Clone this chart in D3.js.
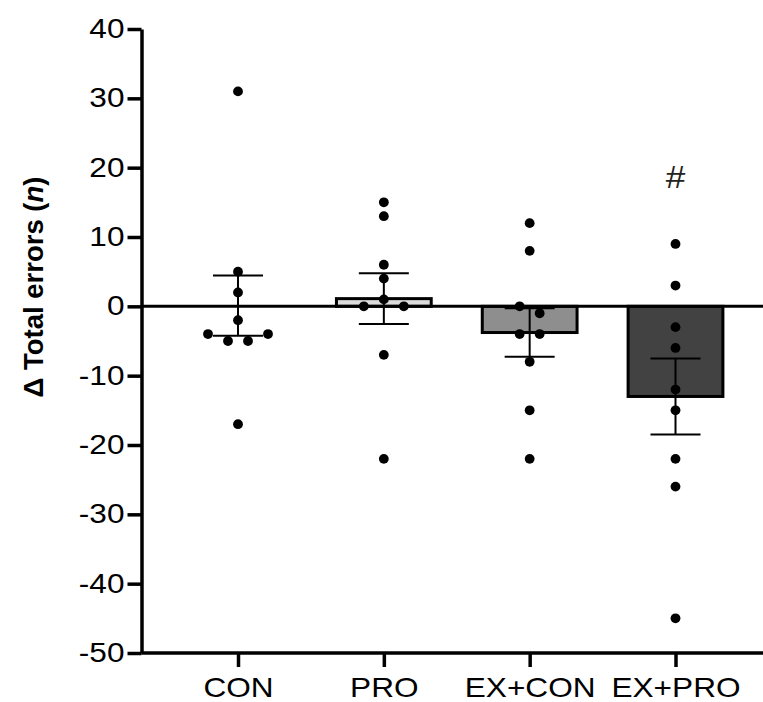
<!DOCTYPE html>
<html>
<head>
<meta charset="utf-8">
<script src="https://cdn.jsdelivr.net/npm/d3@7"></script>
<style>
  body { margin: 0; background: #fff; }
  svg { display: block; }
  text { font-family: "Liberation Sans", Arial, sans-serif; }
</style>
</head>
<body>
<div id="chart"></div>
<script>
// group names and bar colours
const groups = ["CON", "PRO", "EX+CON", "EX+PRO"];
const barFills = ["#ffffff", "#dcdcdc", "#8e8e8e", "#424242"];

// individual change scores per group
const conValues = [31, 5, 2, -2, -5, -5, -4, -4, -17];
const proValues = [15, 13, 6, 4, 1, 0, 0, -7, -22];
const exConValues = [12, 8, 0, -1, -4, -4, -8, -15, -22];
const exProValues = [9, 3, -3, -6, -12, -15, -22, -26, -45];

const yTicks = [40, 30, 20, 10, 0, -10, -20, -30, -40, -50];

// significance mark
const markGroup = "EX+PRO";
const markText = "#";
const markValue = 17;

const allValues = [conValues, proValues, exConValues, exProValues];

// the original figure's labels are a bit wider than Liberation Sans
var stretch = 1.17;

var margin = { top: 29, right: 0, bottom: 49, left: 141.5 },
    width = 763 - margin.left - margin.right,
    height = 702 - margin.top - margin.bottom;

var svg = d3.select("#chart")
    .append("svg")
    .attr("width", 763)
    .attr("height", 702)
    .append("g")
    .attr("transform", "translate(" + margin.left + "," + margin.top + ")");

var x = d3.scalePoint()
    .domain(groups)
    .range([96.5, 534]);
var step = x.step();
var barWidth = step * 0.65;

var y = d3.scaleLinear()
    .domain([-50, 40])
    .range([height, 0]);

// summary stats
var stats = groups.map(function (g, i) {
    var vals = allValues[i];
    var m = d3.mean(vals);
    var sem = d3.deviation(vals) / Math.sqrt(vals.length);
    return { group: g, mean: m, sem: sem, fill: barFills[i], values: vals };
});

// bars
svg.append("g")
    .selectAll("rect")
    .data(stats)
    .enter()
    .append("rect")
    .attr("x", function (d) { return x(d.group) - barWidth / 2; })
    .attr("y", function (d) { return Math.min(y(0), y(d.mean)); })
    .attr("width", barWidth)
    .attr("height", function (d) { return Math.abs(y(d.mean) - y(0)); })
    .style("fill", function (d) { return d.fill; })
    .style("stroke", function (d) { return Math.abs(y(d.mean) - y(0)) > 2 ? "#000" : "none"; })
    .style("stroke-width", 3);

// zero line
svg.append("line")
    .attr("x1", 0)
    .attr("x2", width)
    .attr("y1", y(0))
    .attr("y2", y(0))
    .style("stroke", "#000")
    .style("stroke-width", 3);

// error bars (mean +/- SEM)
var eb = svg.append("g").selectAll("g")
    .data(stats)
    .enter()
    .append("g")
    .style("stroke", "#000")
    .style("stroke-width", 2);
eb.append("line")
    .attr("x1", function (d) { return x(d.group); })
    .attr("x2", function (d) { return x(d.group); })
    .attr("y1", function (d) { return y(d.mean + d.sem); })
    .attr("y2", function (d) { return y(d.mean - d.sem); });
eb.append("line")
    .attr("x1", function (d) { return x(d.group) - 25; })
    .attr("x2", function (d) { return x(d.group) + 25; })
    .attr("y1", function (d) { return y(d.mean + d.sem); })
    .attr("y2", function (d) { return y(d.mean + d.sem); });
eb.append("line")
    .attr("x1", function (d) { return x(d.group) - 25; })
    .attr("x2", function (d) { return x(d.group) + 25; })
    .attr("y1", function (d) { return y(d.mean - d.sem); })
    .attr("y2", function (d) { return y(d.mean - d.sem); });

// scatter dots: points closer than a dot apart share a row, spread centre-out
function swarm(group, vals) {
    var pts = vals.map(function (v, i) { return { group: group, value: v, idx: i, py: y(v), dx: 0 }; });
    var sorted = pts.slice().sort(function (a, b) { return a.py - b.py; });
    var rows = [];
    sorted.forEach(function (p) {
        var last = rows[rows.length - 1];
        if (last && p.py - last[last.length - 1].py < 10) last.push(p);
        else rows.push([p]);
    });
    rows.forEach(function (row) {
        row.sort(function (a, b) { return a.idx - b.idx; });
        var n = row.length;
        var slots = d3.range(n).map(function (i) { return (i - (n - 1) / 2) * 20; });
        slots.sort(function (a, b) { return Math.abs(a) - Math.abs(b) || a - b; });
        row.forEach(function (p, i) { p.dx = slots[i]; });
    });
    return pts;
}

var dots = [];
groups.forEach(function (g, i) { dots = dots.concat(swarm(g, allValues[i])); });

svg.append("g")
    .selectAll("circle")
    .data(dots)
    .enter()
    .append("circle")
    .attr("cx", function (d) { return x(d.group) + d.dx; })
    .attr("cy", function (d) { return y(d.value); })
    .attr("r", 4.9)
    .style("fill", "#000");

// significance mark
svg.append("text")
    .attr("transform", "translate(" + x(markGroup) + "," + y(markValue) + ") scale(1.1,1)")
    .attr("text-anchor", "middle")
    .style("font-size", "32px")
    .style("fill", "#222")
    .text(markText);

// y axis (plain hyphen for negatives, as in the original)
var yAxis = svg.append("g")
    .call(d3.axisLeft(y).tickValues(yTicks).tickSize(14).tickSizeOuter(0).tickPadding(3)
        .tickFormat(function (d) { return String(d); }));
yAxis.select(".domain").style("stroke-width", 3.5);
yAxis.selectAll(".tick line").style("stroke-width", 3.5);
yAxis.selectAll(".tick text")
    .attr("x", -17 / stretch)
    .attr("transform", "scale(" + stretch + ",1)")
    .style("font-size", "27px")
    .style("fill", "#000");

// x axis
var xAxis = svg.append("g")
    .attr("transform", "translate(0," + height + ")")
    .call(d3.axisBottom(x).tickSize(14).tickSizeOuter(0).tickPadding(11));
xAxis.select(".domain").remove();
xAxis.append("line")
    .attr("x1", 0)
    .attr("x2", width)
    .style("stroke", "#000")
    .style("stroke-width", 3.5);
xAxis.selectAll(".tick line").style("stroke-width", 3.5);
xAxis.selectAll(".tick text")
    .attr("transform", "scale(" + stretch + ",1)")
    .style("font-size", "27px")
    .style("fill", "#000");

// y title
var title = d3.select("svg").append("text")
    .attr("transform", "translate(43,287) rotate(-90)")
    .attr("text-anchor", "middle")
    .style("font-size", "27.5px")
    .style("font-weight", "bold")
    .style("fill", "#000");
title.append("tspan").text("\u0394 Total errors (");
title.append("tspan").style("font-style", "italic").text("n");
title.append("tspan").text(")");
</script>
</body>
</html>
